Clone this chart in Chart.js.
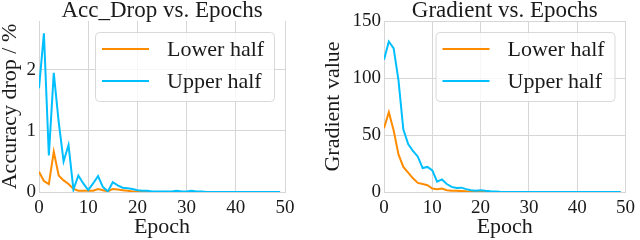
<!DOCTYPE html>
<html>
<head>
<meta charset="utf-8">
<script src="https://cdn.jsdelivr.net/npm/chart.js@4.4.0/dist/chart.umd.min.js"></script>
<style>
  html, body { margin: 0; padding: 0; background: #fff; }
  #wrap { position: relative; width: 640px; height: 240px; }
  .panel { position: absolute; top: 0; width: 320px; height: 240px; }
</style>
</head>
<body>
<div id="wrap">
  <div class="panel" style="left:0"><canvas id="chartAcc" width="320" height="240"></canvas></div>
  <div class="panel" style="left:320px"><canvas id="chartGrad" width="320" height="240"></canvas></div>
</div>
<script>
// data
const epochs = [0, 1, 2, 3, 4, 5, 6, 7, 8, 9,
  10, 11, 12, 13, 14, 15, 16, 17, 18, 19,
  20, 21, 22, 23, 24, 25, 26, 27, 28, 29,
  30, 31, 32, 33, 34, 35, 36, 37, 38, 39,
  40, 41, 42, 43, 44, 45, 46, 47, 48, 49];

const accLower = [0.33, 0.18, 0.13, 0.66, 0.27, 0.19, 0.13, 0.05, 0.02, 0.02,
  0.02, 0.02, 0.05, 0.03, 0.01, 0.05, 0.04, 0.03, 0.02, 0.01,
  0.01, 0, 0, 0, 0, 0, 0, 0, 0, 0,
  0, 0, 0, 0, 0, 0, 0, 0, 0, 0,
  0, 0, 0, 0, 0, 0, 0, 0, 0, 0];
const accUpper = [1.7, 2.6, 0.6, 1.95, 1.15, 0.5, 0.77, 0.04, 0.27, 0.14,
  0.03, 0.14, 0.26, 0.08, 0.01, 0.16, 0.11, 0.07, 0.06, 0.05,
  0.03, 0.02, 0.02, 0.01, 0.01, 0.01, 0.01, 0.01, 0.02, 0.01,
  0.01, 0.02, 0.01, 0.01, 0, 0, 0, 0, 0, 0,
  0, 0, 0, 0, 0, 0, 0, 0, 0, 0];

const gradLower = [56, 70, 54, 33, 22, 17, 12, 8, 7, 6,
  3, 2.5, 3, 1.5, 1.2, 1, 0.8, 0.6, 0.5, 0.3,
  0.2, 0.1, 0.1, 0.1, 0.1, 0, 0, 0, 0, 0,
  0, 0, 0, 0, 0, 0, 0, 0, 0, 0,
  0, 0, 0, 0, 0, 0, 0, 0, 0, 0];
const gradUpper = [116, 132, 126, 98, 55, 42, 36, 31, 21, 22,
  19, 9, 11, 7, 4.5, 3.5, 3.8, 2.5, 1.5, 1,
  1.5, 1, 0.6, 0.4, 0.2, 0.1, 0.1, 0.1, 0.1, 0.1,
  0.1, 0.1, 0.1, 0.1, 0.1, 0.1, 0.1, 0.1, 0.1, 0.1,
  0.1, 0.1, 0.1, 0.1, 0.1, 0.1, 0.1, 0.1, 0.1, 0.1];

const epochTicks = [0, 10, 20, 30, 40, 50];
const accTicks = [0, 1, 2];
const gradTicks = [0, 50, 100, 150];

const seriesNames = ['Lower half', 'Upper half'];
const seriesColors = ['#ff8c00', '#00bfff'];

const SERIF = '"Liberation Serif", "DejaVu Serif", serif';
const GRID = '#d6d6d6';
const INK = '#1a1a1a';

// title + boxed legend drawn inside the plot, matplotlib style
const panelDecor = {
  id: 'panelDecor',
  afterDraw(chart, args, opts) {
    const { ctx, chartArea } = chart;
    ctx.save();
    ctx.font = '23px ' + SERIF;
    ctx.fillStyle = INK;
    ctx.textAlign = 'center';
    ctx.textBaseline = 'alphabetic';
    ctx.fillText(opts.title, (chartArea.left + chartArea.right) / 2, 17);

    const w = 179, h = 69;
    const x0 = chartArea.right - 11 - w;
    const y0 = chartArea.top + 11;
    ctx.beginPath();
    ctx.roundRect(x0 + 0.5, y0 + 0.5, w, h, 4);
    ctx.fillStyle = 'rgba(255,255,255,0.8)';
    ctx.fill();
    ctx.strokeStyle = '#d9d9d9';
    ctx.lineWidth = 1;
    ctx.stroke();

    ctx.font = '22px ' + SERIF;
    ctx.textAlign = 'left';
    ctx.textBaseline = 'middle';
    chart.data.datasets.forEach((ds, i) => {
      const y = y0 + 17 + i * 32;
      ctx.beginPath();
      ctx.moveTo(x0 + 7, y);
      ctx.lineTo(x0 + 54, y);
      ctx.strokeStyle = ds.borderColor;
      ctx.lineWidth = 2;
      ctx.stroke();
      ctx.fillStyle = INK;
      ctx.fillText(ds.label, x0 + 72, y + 1);
    });
    ctx.restore();
  }
};

function makePanel(canvasId, title, yLabel, lower, upper, yTicks, yMax, yWidth, padRight, yTitlePad) {
  const ctx = document.getElementById(canvasId);
  return new Chart(ctx, {
    type: 'line',
    data: {
      labels: epochs,
      datasets: [lower, upper].map((values, i) => ({
        label: seriesNames[i],
        data: values,
        borderColor: seriesColors[i],
        backgroundColor: seriesColors[i],
        borderWidth: 2,
        pointRadius: 0,
        tension: 0,
        fill: false,
        order: 1 - i
      }))
    },
    options: {
      responsive: false,
      animation: false,
      events: [],
      layout: { padding: { top: 21, right: padRight, bottom: 0, left: 0 } },
      plugins: {
        legend: { display: false },
        tooltip: { enabled: false },
        panelDecor: { title: title }
      },
      scales: {
        x: {
          type: 'linear',
          min: 0,
          max: 50,
          afterBuildTicks: s => { s.ticks = epochTicks.map(v => ({ value: v })); },
          afterFit: s => { s.height = 48; },
          grid: { color: GRID, drawTicks: false },
          border: { color: GRID },
          ticks: { font: { family: SERIF, size: 19 }, color: INK, padding: 5, maxRotation: 0 },
          title: { display: true, text: 'Epoch', font: { family: SERIF, size: 22, lineHeight: 1 }, color: INK, padding: { top: 0, bottom: 2 } }
        },
        y: {
          type: 'linear',
          min: 0,
          max: yMax,
          afterBuildTicks: s => { s.ticks = yTicks.map(v => ({ value: v })); },
          afterFit: s => { s.width = yWidth; },
          grid: { color: GRID, drawTicks: false },
          border: { color: GRID },
          ticks: { font: { family: SERIF, size: 19 }, color: INK, padding: 3 },
          title: { display: true, text: yLabel, font: { family: SERIF, size: 22, lineHeight: 1 }, color: INK, padding: { top: yTitlePad, bottom: 0 } }
        }
      }
    },
    plugins: [panelDecor]
  });
}

makePanel('chartAcc', 'Acc_Drop vs. Epochs', 'Accuracy drop / %', accLower, accUpper, accTicks, 2.8, 39, 35, -1);
makePanel('chartGrad', 'Gradient vs. Epochs', 'Gradient value', gradLower, gradUpper, gradTicks, 150, 64, 10, 2);
</script>
</body>
</html>
